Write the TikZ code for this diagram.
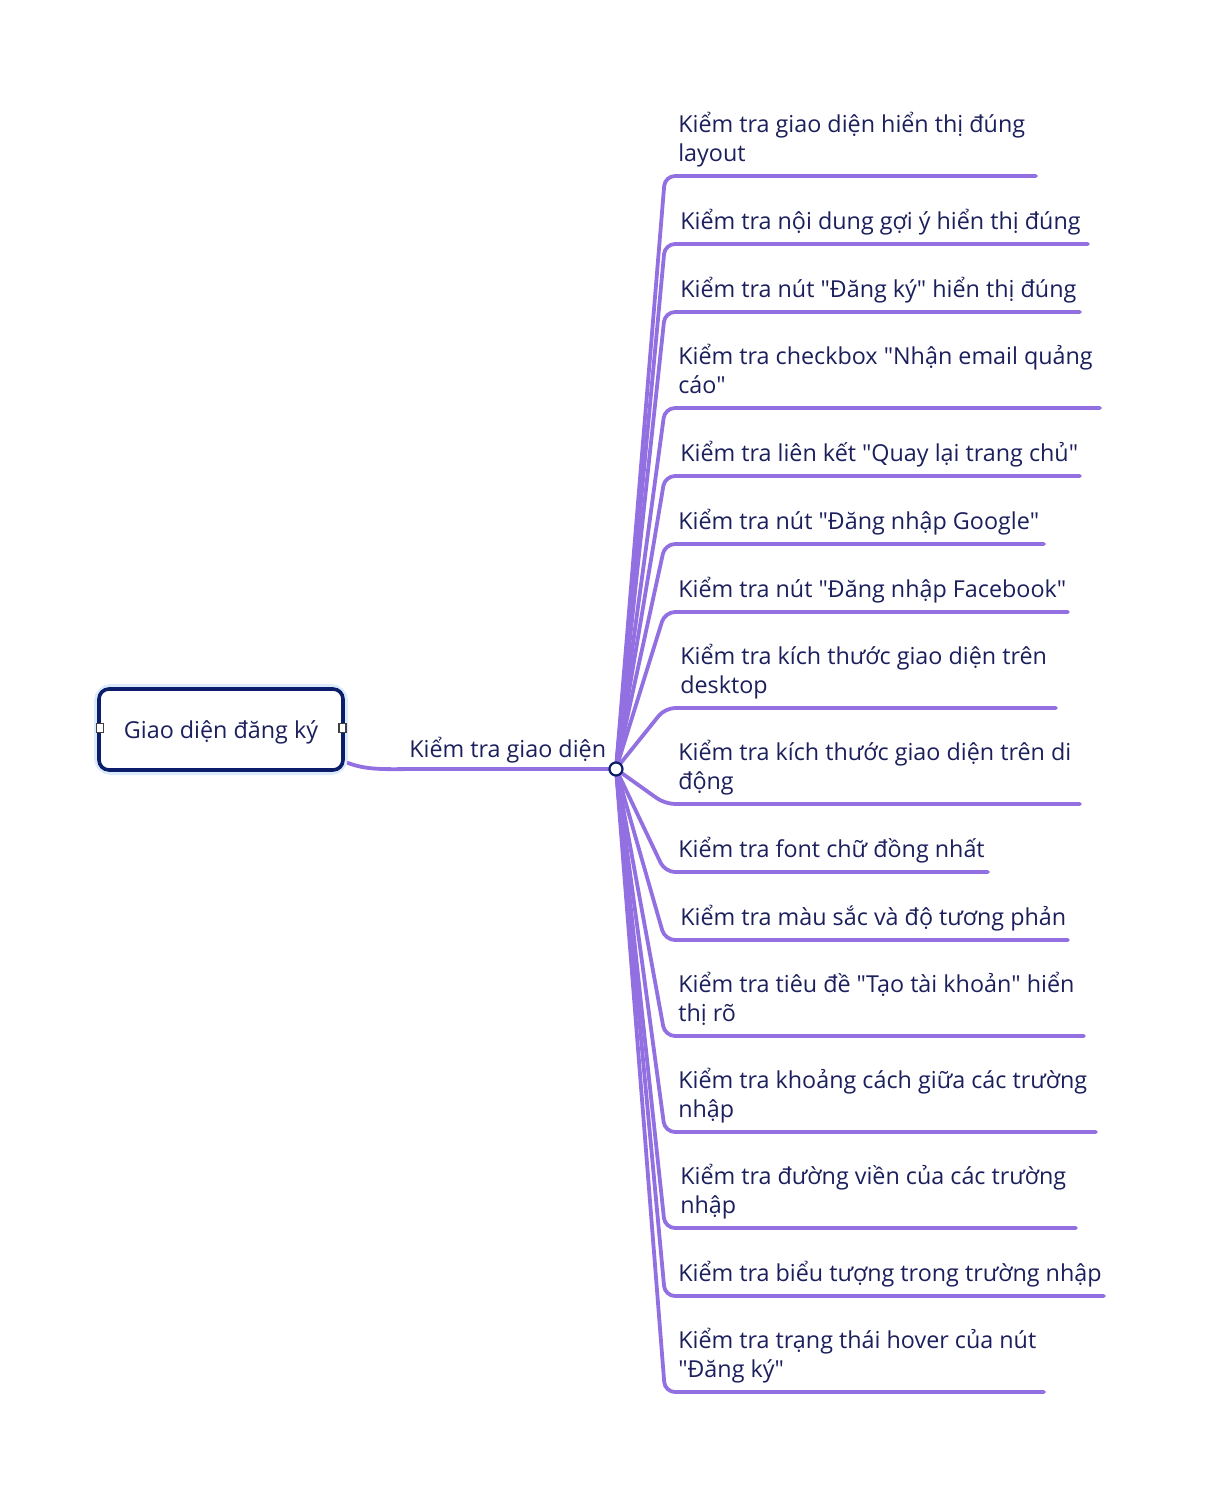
\documentclass[tikz,border=0pt]{standalone}
\usepackage{fontspec}
\setmainfont{Open Sans}
\usetikzlibrary{backgrounds}
\newlength\pu
\setlength\pu{0.75pt}
\definecolor{branchc}{HTML}{9370E2}
\definecolor{textc}{HTML}{1B1F5C}
\definecolor{navyc}{HTML}{0B1D6B}
\definecolor{glowc}{HTML}{DCEBFB}
\newcommand\qq{\textquotedbl{}}
\tikzset{
  branch/.style={draw=branchc, line width=3.8\pu, line cap=round, rounded corners=10\pu},
  leaf/.style={anchor=base west, inner sep=0pt, align=left, text=textc,
    font=\fontsize{17.5}{21.75}\selectfont},
  rootbox/.style={draw=navyc, line width=3.6\pu, rounded corners=10\pu, fill=white,
    minimum width=244\pu, minimum height=81\pu, text=textc,
    text height=14.5pt, text depth=1.7pt,
    font=\fontsize{17.5}{21.75}\selectfont},
  handle/.style={draw=black!75, fill=white, line width=1.3\pu, minimum width=7\pu,
    minimum height=9\pu, inner sep=0pt},
  hubnode/.style={circle, draw=navyc, fill=white, line width=2.2\pu,
    minimum size=13\pu, inner sep=0pt}
}
\begin{document}
\begin{tikzpicture}[x=\pu, y=-\pu]
\useasboundingbox (0,0) rectangle (1212,1504);
% root
\draw[glowc, line width=10\pu, rounded corners=12\pu] (99,689) rectangle (343,770);
\node[rootbox] (root) at (221,729.5) {Giao diện đăng ký};
\node[handle] (hl) at (100,728) {};
\node[handle] (hr) at (342.5,728) {};
% hub
\node[hubnode] (hub) at (616,769) {};
\coordinate (rj) at (430,769);
\node[leaf] (lab) at (409,757) {Kiểm tra giao diện};
% leaves
\foreach \i/\y/\xe/\tx/\txt in {
  1/176/1036/678/{Kiểm tra giao diện hiển thị đúng\\layout},
  2/244/1088/680/{Kiểm tra nội dung gợi ý hiển thị đúng},
  3/312/1080/680/{Kiểm tra nút \qq Đăng ký\qq\ hiển thị đúng},
  4/408/1100/678/{Kiểm tra checkbox \qq Nhận email quảng\\cáo\qq},
  5/476/1080/680/{Kiểm tra liên kết \qq Quay lại trang chủ\qq},
  6/544/1044/678/{Kiểm tra nút \qq Đăng nhập Google\qq},
  7/612/1068/678/{Kiểm tra nút \qq Đăng nhập Facebook\qq},
  8/708/1056/680/{Kiểm tra kích thước giao diện trên\\desktop},
  9/804/1080/678/{Kiểm tra kích thước giao diện trên di\\động},
  10/872/988/678/{Kiểm tra font chữ đồng nhất},
  11/940/1068/680/{Kiểm tra màu sắc và độ tương phản},
  12/1036/1084/678/{Kiểm tra tiêu đề \qq Tạo tài khoản\qq\ hiển\\thị rõ},
  13/1132/1096/678/{Kiểm tra khoảng cách giữa các trường\\nhập},
  14/1228/1076/680/{Kiểm tra đường viền của các trường\\nhập},
  15/1296/1104/678/{Kiểm tra biểu tượng trong trường nhập},
  16/1392/1044/678/{Kiểm tra trạng thái hover của nút\\\qq Đăng ký\qq}}{
  \node[leaf] (b\i) at (\tx,\y-15) {\txt};
  \coordinate (e\i) at (\xe,\y);
  \coordinate (k\i) at (665,\y);
  \begin{pgfonlayer}{background}
    \draw[branch] (hub.center) -- (k\i) -- (e\i);
  \end{pgfonlayer}
}
\begin{pgfonlayer}{background}
  \draw[branch] ([yshift=10\pu]root.south east) .. controls +(22\pu,-9\pu) and +(-45\pu,0pt) .. (rj) -- (hub.center);
\end{pgfonlayer}
\end{tikzpicture}
\end{document}
